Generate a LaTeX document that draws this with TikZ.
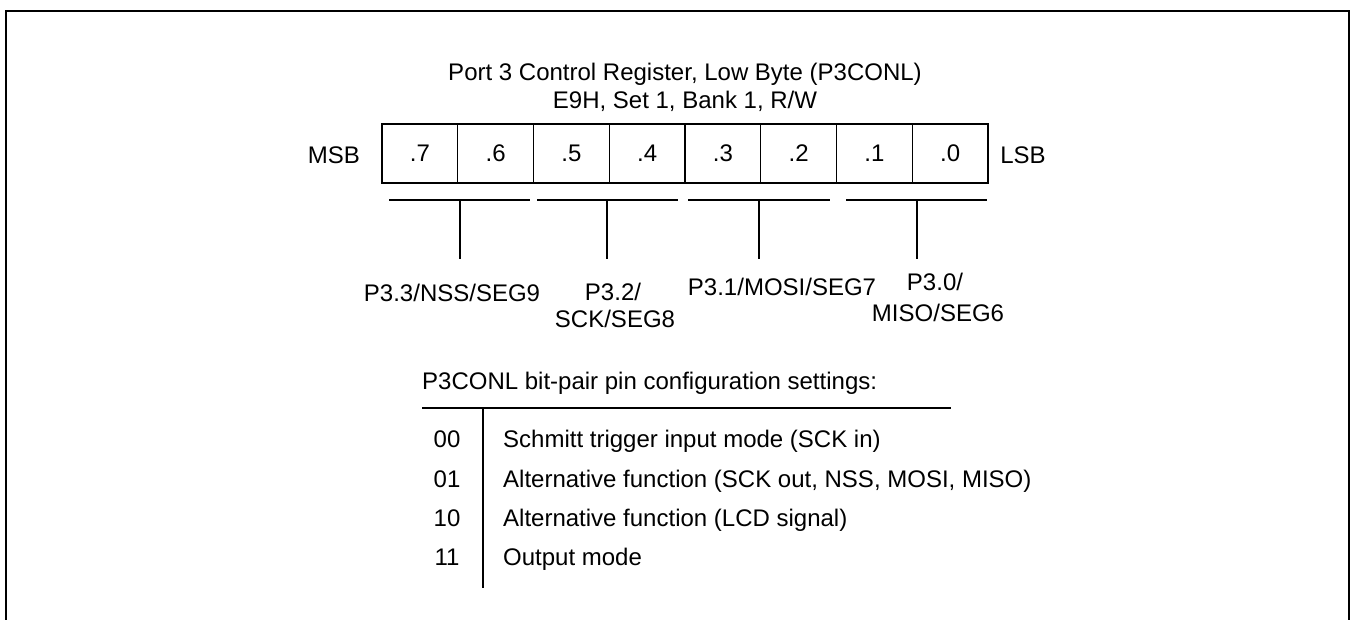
\documentclass[tikz,border=0pt]{standalone}
\usepackage{fontspec}
\setmainfont{Liberation Sans}
\begin{document}
\begin{tikzpicture}[x=1pt,y=-1pt,
  txt/.style={inner sep=0pt,font=\fontsize{24}{28}\selectfont,anchor=base},
  lft/.style={txt,anchor=base west},
  cell/.style={draw,line width=1.3pt,minimum width=75.75pt,minimum height=59pt,inner sep=0pt,font=\fontsize{24}{28}\selectfont},
  ln/.style={line width=1.3pt},
  frame/.style={line width=2pt}]
\useasboundingbox (0,0) rectangle (1352,620);
\draw[frame] (6,660) -- (6,11) -- (1349,11) -- (1349,660);
% title
\node[txt] (t1) at (685,81) {Port 3 Control Register, Low Byte (P3CONL)};
\node[txt] (t2) at (685,108.5) {E9H, Set 1, Bank 1, R/W};
\node[txt] (msb) at (334,163.6) {MSB};
\node[txt] (lsb) at (1023,163.6) {LSB};
% cells
\foreach \i/\lab in {0/.7,1/.6,2/.5,3/.4,4/.3,5/.2,6/.1,7/.0}{
  \node[cell] (c\i) at ({382+75.75*\i+37.875},153.5) {\lab};
}
% bars
\coordinate (b1l) at (389,200); \coordinate (b1r) at (530,200);
\coordinate (b2l) at (537,200); \coordinate (b2r) at (678,200);
\coordinate (b3l) at (688,200); \coordinate (b3r) at (830,200);
\coordinate (b4l) at (846,200); \coordinate (b4r) at (987,200);
\draw[ln] (b1l) -- (b1r); \draw[ln] (b2l) -- (b2r);
\draw[ln] (b3l) -- (b3r); \draw[ln] (b4l) -- (b4r);
\coordinate (k1t) at (460,200); \coordinate (k1b) at (460,259);
\coordinate (k2t) at (607,200); \coordinate (k2b) at (607,259);
\coordinate (k3t) at (759,200); \coordinate (k3b) at (759,259);
\coordinate (k4t) at (917,200); \coordinate (k4b) at (917,259);
\draw[ln] (k1t) -- (k1b); \draw[ln] (k2t) -- (k2b);
\draw[ln] (k3t) -- (k3b); \draw[ln] (k4t) -- (k4b);
% pin labels
\node[txt] (p33) at (452,301.6) {P3.3/NSS/SEG9};
\node[txt] (p32a) at (613,300.6) {P3.2/};
\node[txt] (p32b) at (615,327.6) {SCK/SEG8};
\node[txt] (p31) at (782,295.6) {P3.1/MOSI/SEG7};
\node[txt] (p30a) at (935,290.6) {P3.0/};
\node[txt] (p30b) at (938,321.6) {MISO/SEG6};
% table
\node[lft] (th) at (422,389.6) {P3CONL bit-pair pin configuration settings:};
\coordinate (hl) at (422,408); \coordinate (hr) at (951,408);
\coordinate (vt) at (483,408); \coordinate (vb) at (483,588);
\draw[ln] (hl) -- (hr);
\draw[ln] (vt) -- (vb);
\foreach \y/\c/\d [count=\n] in {439/00/Schmitt trigger input mode (SCK in),
  479/01/{Alternative function (SCK out, NSS, MOSI, MISO)},
  518/10/Alternative function (LCD signal),
  557/11/Output mode}{
  \node[txt] (code\n) at (447,\y+8.6) {\c};
  \node[lft] (desc\n) at (503,\y+8.6) {\d};
}
\end{tikzpicture}
\end{document}
